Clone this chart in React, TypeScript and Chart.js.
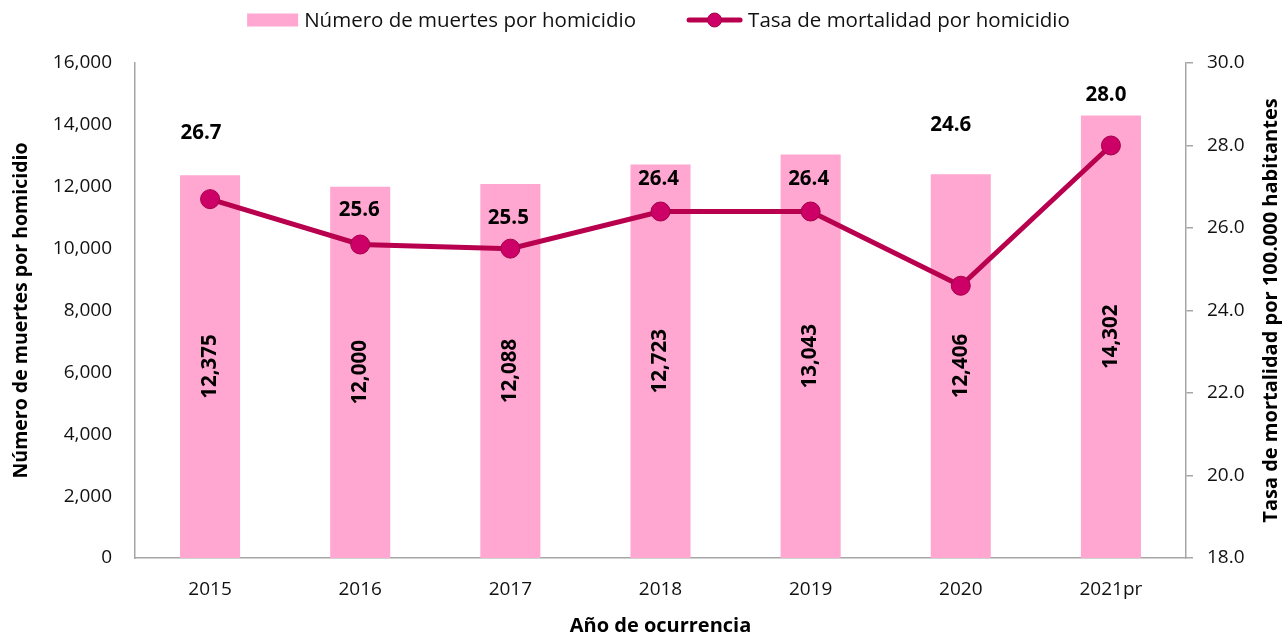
import { useEffect, useRef } from "react";
import { Chart, registerables } from "chart.js";

Chart.register(...registerables);

// Años de ocurrencia
const years = ["2015", "2016", "2017", "2018", "2019", "2020", "2021pr"];
// Número de muertes por homicidio
const homicideCounts = [12375, 12000, 12088, 12723, 13043, 12406, 14302];
// Tasa de mortalidad por 100.000 habitantes
const homicideRates = [26.7, 25.6, 25.5, 26.4, 26.4, 24.6, 28.0];

// Axis ranges
const countAxis = { min: 0, max: 16000, step: 2000 };
const rateAxis = { min: 18, max: 30, step: 2 };

// Placement of the rate labels relative to their points (px)
const rateLabelLift = [66, 34, 30, 32, 32, 161, 50];
const rateLabelShift = [-9, -1, -2, -2, -2, -10, -5];

const FONT = "'Open Sans', 'Noto Sans', sans-serif";
const BAR_COLOR = "#FFA6D1";
const LINE_COLOR = "#B8004F";
const MARKER_FILL = "#CC0066";
const MARKER_BORDER = "#A6004A";
const AXIS_COLOR = "#A6A6A6";
const TEXT_COLOR = "#111111";

const countLabel = "Número de muertes por homicidio";
const rateLabel = "Tasa de mortalidad por homicidio";
const rateAxisTitle = "Tasa de mortalidad por 100.000 habitantes";

const fmtCount = (v: number) => v.toLocaleString("en-US");
const fmtRate = (v: number) => v.toFixed(1);

// Legend across the top, plus the right axis title read bottom-to-top
const topLegend = {
  id: "topLegend",
  afterDraw(chart: any) {
    const { ctx, chartArea } = chart;
    ctx.save();
    ctx.font = `20.5px ${FONT}`;
    ctx.textBaseline = "middle";
    ctx.fillStyle = TEXT_COLOR;
    const boxW = 51;
    const lineW = 55;
    const gapText = 6;
    const gapItems = 51;
    const w1 = ctx.measureText(countLabel).width;
    const w2 = ctx.measureText(rateLabel).width;
    const total = boxW + gapText + w1 + gapItems + lineW + gapText + w2;
    let x = (chartArea.left + chartArea.right) / 2 - 2 - total / 2;
    const cy = 20;
    ctx.fillStyle = BAR_COLOR;
    ctx.fillRect(x, cy - 6.5, boxW, 13);
    x += boxW + gapText;
    ctx.fillStyle = TEXT_COLOR;
    ctx.textAlign = "left";
    ctx.fillText(countLabel, x, cy + 1);
    x += w1 + gapItems;
    ctx.strokeStyle = LINE_COLOR;
    ctx.lineWidth = 5;
    ctx.lineCap = "round";
    ctx.beginPath();
    ctx.moveTo(x + 2, cy);
    ctx.lineTo(x + lineW - 2, cy);
    ctx.stroke();
    ctx.beginPath();
    ctx.arc(x + lineW / 2, cy, 7, 0, Math.PI * 2);
    ctx.fillStyle = MARKER_FILL;
    ctx.fill();
    ctx.lineWidth = 1;
    ctx.strokeStyle = MARKER_BORDER;
    ctx.stroke();
    x += lineW + gapText;
    ctx.fillStyle = TEXT_COLOR;
    ctx.fillText(rateLabel, x, cy + 1);

    const rScale = chart.scales.yRate;
    ctx.translate(rScale.right - 12, (chartArea.top + chartArea.bottom) / 2);
    ctx.rotate(-Math.PI / 2);
    ctx.font = `bold 20px ${FONT}`;
    ctx.textAlign = "center";
    ctx.fillStyle = "#000000";
    ctx.fillText(rateAxisTitle, 0, 0);
    ctx.restore();
  },
};

// Value labels for bars (rotated) and for line points
const valueLabels = {
  id: "valueLabels",
  afterDatasetsDraw(chart: any) {
    const { ctx } = chart;
    ctx.save();
    ctx.fillStyle = "#000000";
    ctx.font = `bold 20.5px ${FONT}`;
    ctx.textAlign = "center";
    ctx.textBaseline = "middle";

    const barMeta = chart.getDatasetMeta(1);
    barMeta.data.forEach((el: any, i: number) => {
      const cy = (el.y + el.base) / 2;
      ctx.save();
      ctx.translate(el.x, cy);
      ctx.rotate(-Math.PI / 2);
      ctx.fillText(fmtCount(homicideCounts[i]), 0, 0);
      ctx.restore();
    });

    const lineMeta = chart.getDatasetMeta(0);
    lineMeta.data.forEach((el: any, i: number) => {
      ctx.fillText(
        fmtRate(homicideRates[i]),
        el.x + rateLabelShift[i],
        el.y - rateLabelLift[i]
      );
    });
    ctx.restore();
  },
};

export default function App() {
  const canvasRef = useRef<HTMLCanvasElement | null>(null);

  useEffect(() => {
    if (!canvasRef.current) return;
    Chart.defaults.font.family = FONT;
    Chart.defaults.color = TEXT_COLOR;

    const chart = new Chart(canvasRef.current, {
      type: "bar",
      data: {
        labels: years,
        datasets: [
          {
            type: "line",
            label: rateLabel,
            data: homicideRates,
            yAxisID: "yRate",
            borderColor: LINE_COLOR,
            borderWidth: 5,
            pointRadius: 9.5,
            pointBackgroundColor: MARKER_FILL,
            pointBorderColor: MARKER_BORDER,
            pointBorderWidth: 1,
            tension: 0,
            order: 0,
          } as any,
          {
            type: "bar",
            label: countLabel,
            data: homicideCounts,
            yAxisID: "yCount",
            backgroundColor: BAR_COLOR,
            barPercentage: 0.4,
            categoryPercentage: 1,
            order: 1,
          },
        ],
      },
      options: {
        animation: false,
        responsive: true,
        maintainAspectRatio: false,
        layout: { padding: { top: 63, left: 0, right: 0, bottom: 0 } },
        plugins: {
          legend: { display: false },
          tooltip: { enabled: false },
        },
        scales: {
          x: {
            offset: true,
            grid: { display: false, drawTicks: false },
            border: { display: true, color: AXIS_COLOR, width: 1.5 },
            ticks: { padding: 20, font: { size: 19 }, color: TEXT_COLOR },
            title: {
              display: true,
              text: "Año de ocurrencia",
              font: { size: 20, weight: "bold", lineHeight: 1 },
              color: "#000000",
              padding: { top: 0, bottom: 0 },
            },
            afterFit(scale: any) {
              scale.height = 78;
            },
          },
          yCount: {
            position: "left",
            min: countAxis.min,
            max: countAxis.max,
            grid: { display: false, drawTicks: false },
            border: { display: true, color: AXIS_COLOR, width: 1.5 },
            ticks: {
              stepSize: countAxis.step,
              padding: 23,
              font: { size: 19 },
              color: TEXT_COLOR,
              callback: (v: any) => fmtCount(Number(v)),
            },
            title: {
              display: true,
              text: countLabel,
              font: { size: 19.5, weight: "bold", lineHeight: 1 },
              color: "#000000",
              padding: { top: 12, bottom: 0 },
            },
            afterFit(scale: any) {
              scale.width = 135;
            },
          },
          yRate: {
            position: "right",
            min: rateAxis.min,
            max: rateAxis.max,
            grid: {
              display: true,
              drawOnChartArea: false,
              drawTicks: true,
              tickLength: 7,
              color: AXIS_COLOR,
              lineWidth: 1.5,
            },
            border: { display: true, color: AXIS_COLOR, width: 1.5 },
            ticks: {
              stepSize: rateAxis.step,
              padding: 14,
              font: { size: 19 },
              color: TEXT_COLOR,
              callback: (v: any) => fmtRate(Number(v)),
            },
            title: { display: false },
            afterFit(scale: any) {
              scale.width = 97;
            },
          },
        },
      },
      plugins: [valueLabels, topLegend],
    });

    return () => chart.destroy();
  }, []);

  return (
    <div
      style={{
        position: "fixed",
        left: 0,
        top: 0,
        width: "100vw",
        height: "100vh",
        background: "#ffffff",
      }}
    >
      <canvas ref={canvasRef} />
    </div>
  );
}
